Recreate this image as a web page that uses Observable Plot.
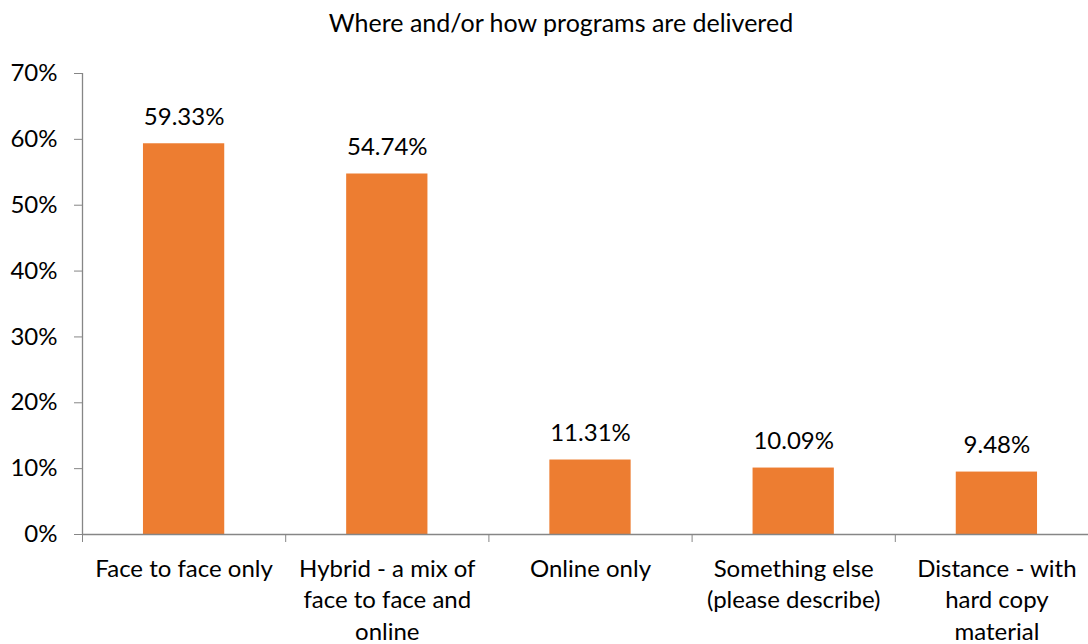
<!DOCTYPE html>
<html>
<head>
<meta charset="utf-8">
<script src="https://cdn.jsdelivr.net/npm/d3@7"></script>
<script src="https://cdn.jsdelivr.net/npm/@observablehq/plot@0.6"></script>
<style>
  body { margin: 0; background: #fff; font-family: Lato, "Open Sans", sans-serif; }
  #title { height: 50px; line-height: 44px; text-align: center; font-size: 25px; color: #000; padding-left: 34px; box-sizing: border-box; width: 1088px; }
</style>
</head>
<body>
<div id="title">Where and/or how programs are delivered</div>
<div id="chart"></div>
<script>
const categories = [
  "Face to face only",
  "Hybrid - a mix of\nface to face and\nonline",
  "Online only",
  "Something else\n(please describe)",
  "Distance - with\nhard copy\nmaterial"
];
const values = [59.33, 54.74, 11.31, 10.09, 9.48];
const valueLabels = ["59.33%", "54.74%", "11.31%", "10.09%", "9.48%"];
const yTicks = [0, 10, 20, 30, 40, 50, 60, 70];

const data = categories.map((c, i) => ({i, c, v: values[i], label: valueLabels[i]}));
const boundaries = d3.range(categories.length + 1).map(k => k - 0.5);
const gray = "#868686";
const fs = 24;

const plot = Plot.plot({
  width: 1088,
  height: 594,
  marginTop: 23,
  marginBottom: 110,
  marginLeft: 82,
  marginRight: 0,
  style: {fontFamily: "Lato, 'Open Sans', sans-serif", fontSize: fs + "px", color: "#000", background: "#fff"},
  x: {type: "linear", domain: [-0.5, categories.length - 0.5], range: [82, 1098]},
  y: {domain: [0, 70]},
  marks: [
    Plot.rectY(data, {x1: d => d.i - 0.2, x2: d => d.i + 0.2, y: "v", fill: "#ED7D31"}),
    Plot.ruleY([0], {stroke: gray, strokeWidth: 1.3}),
    Plot.ruleX([-0.5], {stroke: gray, strokeWidth: 1.3}),
    Plot.axisY({ticks: yTicks, tickFormat: d => d + "%", tickSize: 8, tickPadding: 17, stroke: gray, label: null, fontSize: fs}),
    Plot.axisX({ticks: boundaries, tickFormat: () => "", tickSize: 8, stroke: gray, label: null}),
    Plot.text(data, {x: "i", y: 0, text: "c", lineAnchor: "top", dy: 20, lineHeight: 1.31, fontSize: fs, fill: "#000"}),
    Plot.text(data, {x: "i", y: "v", text: "label", lineAnchor: "bottom", dy: -19, fontSize: fs, fill: "#000"})
  ]
});
document.getElementById("chart").appendChild(plot);
</script>
</body>
</html>
